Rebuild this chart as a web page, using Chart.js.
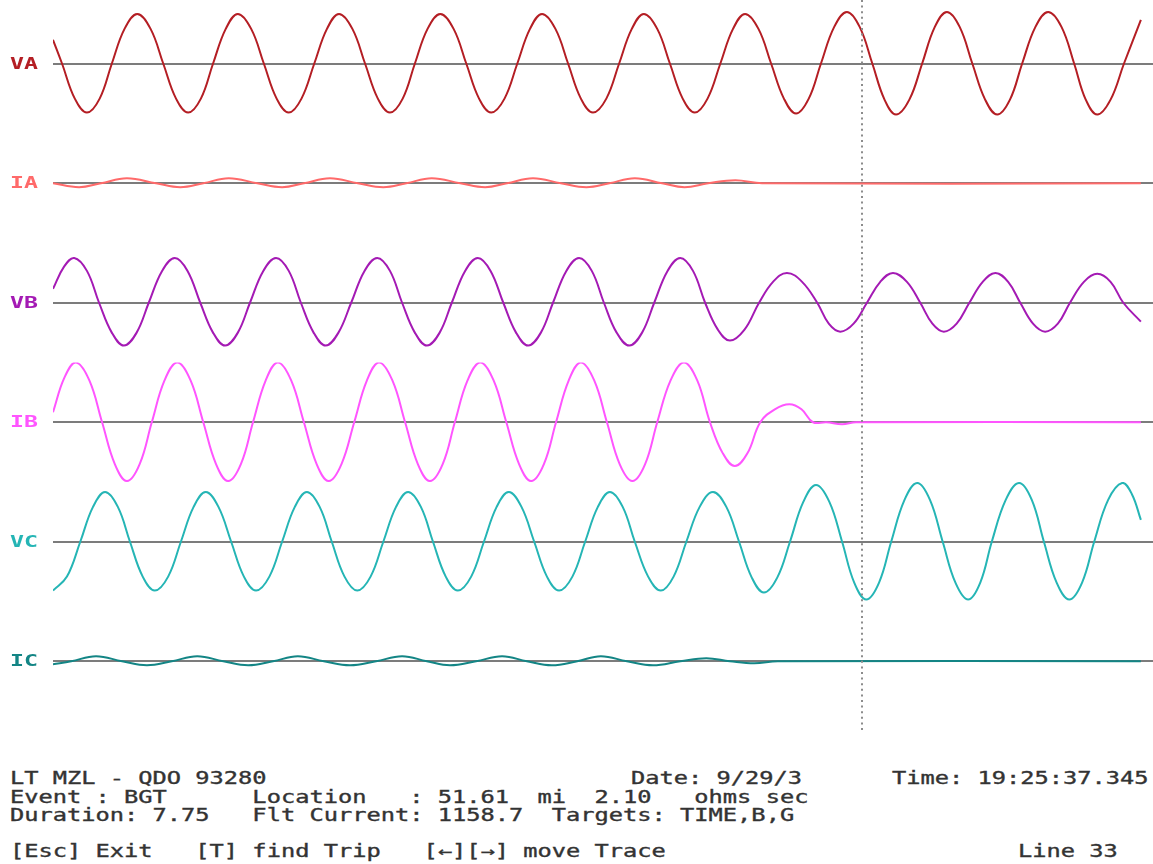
<!DOCTYPE html>
<html>
<head>
<meta charset="utf-8">
<script src="https://cdn.jsdelivr.net/npm/chart.js@4"></script>
<style>
  html, body { margin: 0; background: #fff; }
  #wrap { position: relative; width: 1153px; height: 864px; overflow: hidden; background: #fff; }
  #plot { position: absolute; left: 0; top: 0; width: 1153px; height: 740px; }
  .txt {
    position: absolute; white-space: pre; color: #333;
    font: 17px "DejaVu Sans Mono", monospace; line-height: 16px;
    -webkit-text-stroke: 0.35px #333;
    transform: scaleX(1.393); transform-origin: 0 0;
  }
</style>
</head>
<body>
<div id="wrap">
  <div id="plot"><canvas id="osc"></canvas></div>
  <div class="txt" style="left:10px;top:770px">LT MZL - QDO 93280</div>
  <div class="txt" style="left:631px;top:770px">Date: 9/29/3</div>
  <div class="txt" style="left:892px;top:770px">Time: 19:25:37.345</div>
  <div class="txt" style="left:10px;top:789px">Event : BGT      Location   : 51.61  mi  2.10   ohms sec</div>
  <div class="txt" style="left:10px;top:807px">Duration: 7.75   Flt Current: 1158.7  Targets: TIME,B,G</div>
  <div class="txt" style="left:10px;top:843px">[Esc] Exit   [T] find Trip   [←][→] move Trace</div>
  <div class="txt" style="left:1018px;top:843px">Line 33</div>
</div>
<script>
// channels, top to bottom
const channelNames = ["VA", "IA", "VB", "IB", "VC", "IC"];
const channelColors = ["#b41e24", "#ff6a6a", "#a41ab4", "#ff55ff", "#25b5b5", "#138585"];

// time span of the record on screen (ms) and the cursor position
const timeSpan = 181.5;
const cursorTime = 133.5;

// samples (time in ms, value in display units)
const vaTime = [0.0, 1.5, 3.6, 5.6, 7.7, 9.7, 11.8, 13.9, 16.1, 18.2, 20.3, 22.3, 24.4, 26.4, 28.5, 30.5, 32.7, 34.8, 36.9, 38.9, 41.0, 43.1, 45.2, 47.2, 49.4, 51.5, 53.6, 55.6, 57.7, 59.7, 61.8, 63.9, 66.1, 68.2, 70.3, 72.3, 74.5, 76.6, 78.7, 80.7, 82.9, 85.0, 87.1, 89.1, 91.3, 93.4, 95.5, 97.5, 99.7, 101.8, 103.9, 105.9, 108.0, 110.1, 112.2, 114.2, 116.4, 118.5, 120.6, 122.6, 124.7, 126.7, 128.9, 131.0, 133.1, 135.2, 137.2, 139.1, 141.3, 143.4, 145.5, 147.5, 149.6, 151.7, 153.8, 155.8, 157.9, 159.9, 162.1, 164.2, 166.4, 168.5, 170.4, 172.3, 174.5, 176.7, 179.5];
const vaValue = [24, 0, -35, -49, -35, 0, 35, 50, 35, 0, -35, -49, -35, 0, 35, 50, 35, 0, -35, -49, -35, 0, 35, 50, 35, 0, -35, -49, -35, 0, 35, 50, 35, 0, -35, -49, -35, 0, 35, 50, 35, 0, -35, -49, -35, 0, 35, 50, 35, 0, -35, -49, -35, 0, 35, 50, 35, 0, -35, -50, -35, 0, 37, 52, 37, 0, -36, -51, -36, 0, 37, 52, 37, 0, -36, -51, -36, 0, 37, 52, 37, 0, -36, -51, -36, 0, 44];

const iaTime = [0.0, 4.3, 7.9, 12.2, 17.0, 21.0, 24.8, 29.0, 33.7, 37.8, 41.4, 45.7, 50.3, 54.5, 58.3, 62.5, 67.2, 71.3, 74.9, 79.2, 83.8, 88.0, 91.8, 96.0, 100.5, 104.2, 108.1, 112.6, 117.0, 179.5];
const iaValue = [0, -4, 0, 5, 0, -4, 0, 5, 0, -4, 0, 5, 0, -4, 0, 5, 0, -4, 0, 5, 0, -4, 0, 5, 0, -4, 0, 3, 0, 0];

const vbTime = [0.0, 1.8, 3.5, 5.6, 7.6, 9.7, 11.7, 13.8, 15.8, 18.0, 20.1, 22.2, 24.3, 26.4, 28.4, 30.5, 32.5, 34.7, 36.8, 38.9, 40.9, 43.0, 45.0, 47.1, 49.2, 51.4, 53.5, 55.6, 57.6, 59.7, 61.7, 63.8, 65.8, 68.0, 70.1, 72.2, 74.3, 76.4, 78.4, 80.5, 82.5, 84.7, 86.8, 88.9, 90.9, 93.0, 95.1, 97.2, 99.2, 101.4, 103.5, 105.6, 107.6, 109.7, 111.7, 114.1, 116.5, 118.8, 121.1, 123.6, 126.1, 128.0, 129.9, 132.1, 134.3, 136.5, 138.6, 140.9, 143.1, 145.1, 147.0, 149.1, 151.2, 153.4, 155.5, 157.6, 159.6, 161.7, 163.7, 165.8, 167.8, 170.1, 172.3, 174.5, 176.6, 179.5];
const vbValue = [14, 36, 45, 32, 0, -30, -43, -30, 0, 32, 45, 32, 0, -30, -43, -30, 0, 32, 45, 32, 0, -30, -43, -30, 0, 32, 45, 32, 0, -30, -43, -30, 0, 32, 45, 32, 0, -30, -43, -30, 0, 32, 45, 32, 0, -30, -43, -30, 0, 32, 45, 32, 0, -27, -38, -27, 0, 21, 30, 21, 0, -21, -29, -21, 0, 21, 30, 21, 0, -21, -29, -21, 0, 21, 30, 21, 0, -21, -29, -21, 0, 21, 29, 21, 0, -19];

const ibTime = [0.0, 1.9, 3.8, 6.0, 8.1, 10.2, 12.2, 14.3, 16.3, 18.4, 20.5, 22.7, 24.8, 26.9, 28.9, 31.0, 33.0, 35.1, 37.1, 39.3, 41.4, 43.5, 45.5, 47.6, 49.7, 51.8, 53.8, 56.0, 58.1, 60.2, 62.2, 64.3, 66.3, 68.4, 70.5, 72.7, 74.8, 76.9, 78.9, 81.0, 83.0, 85.1, 87.1, 89.3, 91.4, 93.5, 95.6, 97.7, 99.7, 101.9, 104.1, 106.3, 108.4, 110.5, 112.5, 114.6, 116.7, 119.1, 121.5, 123.5, 125.4, 127.6, 130.2, 132.5, 179.5];
const ibValue = [10, 45, 60, 42, 0, -42, -59, -42, 0, 42, 60, 42, 0, -42, -59, -42, 0, 42, 60, 42, 0, -42, -59, -42, 0, 42, 60, 42, 0, -42, -59, -42, 0, 42, 60, 42, 0, -42, -59, -42, 0, 42, 60, 42, 0, -42, -59, -42, 0, 42, 60, 42, 0, -31, -44, -31, 0, 13, 18, 13, 0, 0, -2, 0, 0];

const vcTime = [0.0, 2.3, 4.5, 6.6, 8.6, 10.7, 12.7, 14.8, 16.8, 19.0, 21.1, 23.2, 25.2, 27.3, 29.4, 31.5, 33.5, 35.7, 37.8, 39.9, 41.9, 44.0, 46.0, 48.1, 50.2, 52.4, 54.5, 56.6, 58.6, 60.7, 62.7, 64.8, 66.8, 69.0, 71.1, 73.2, 75.2, 77.3, 79.4, 81.5, 83.5, 85.7, 87.8, 89.9, 91.9, 94.0, 96.0, 98.2, 100.3, 102.4, 104.5, 106.7, 108.9, 111.1, 113.2, 115.3, 117.3, 119.5, 121.6, 123.8, 125.9, 128.1, 130.2, 132.2, 134.2, 136.3, 138.3, 140.5, 142.6, 144.7, 146.8, 148.9, 151.0, 153.0, 154.9, 157.2, 159.4, 161.5, 163.5, 165.6, 167.7, 169.8, 171.8, 174.1, 176.4, 178.0, 179.5];
const vcValue = [-49, -35, 0, 35, 50, 35, 0, -35, -49, -35, 0, 35, 50, 35, 0, -35, -49, -35, 0, 35, 50, 35, 0, -35, -49, -35, 0, 35, 50, 35, 0, -35, -49, -35, 0, 35, 50, 35, 0, -35, -49, -35, 0, 35, 50, 35, 0, -35, -49, -35, 0, 35, 50, 35, 0, -36, -51, -36, 0, 40, 57, 40, 0, -41, -58, -41, 0, 42, 59, 42, 0, -41, -58, -41, 0, 42, 59, 42, 0, -41, -58, -41, 0, 42, 59, 48, 22];

const icTime = [0.0, 3.0, 7.1, 11.4, 15.5, 19.6, 23.8, 28.1, 32.2, 36.3, 40.4, 44.7, 49.0, 53.3, 57.6, 61.7, 65.5, 69.8, 74.1, 78.2, 82.3, 86.5, 90.4, 94.7, 99.0, 103.5, 107.8, 111.7, 115.7, 119.6, 179.5];
const icValue = [-3, 0, 5, 0, -4, 0, 5, 0, -4, 0, 5, 0, -4, 0, 5, 0, -4, 0, 5, 0, -4, 0, 5, 0, -4, 0, 3, 0, -2, 0, 0];

const traceTimes = [vaTime, iaTime, vbTime, ibTime, vcTime, icTime];
const traceValues = [vaValue, iaValue, vbValue, ibValue, vcValue, icValue];

// Datasets, one per channel, each on its own stacked y axis
const datasets = channelNames.map((name, i) => ({
  label: name,
  data: traceTimes[i].map((t, k) => ({ x: t, y: traceValues[i][k] })),
  yAxisID: "y" + i,
  borderColor: channelColors[i],
  borderWidth: 2,
  pointRadius: 0,
  tension: 0.4,
  fill: false,
}));

// x axis hidden; the y axes are stacked, the last one defined lands on top
const scales = {
  x: { type: "linear", min: 0, max: timeSpan, display: false },
};
for (let i = channelNames.length - 1; i >= 0; i--) {
  scales["y" + i] = {
    type: "linear",
    position: "left",
    stack: "osc",
    stackWeight: 1,
    offset: false,
    min: -60,
    max: 60,
    afterBuildTicks: (axis) => {
      axis.ticks = [{ value: 0 }];
    },
    afterFit: (axis) => {
      axis.width = 53;
    },
    ticks: { display: false },
    border: { display: false },
    grid: { color: "#7c7c7c", lineWidth: 2, drawTicks: false },
  };
}

// Channel names next to each baseline
const traceLabels = {
  id: "traceLabels",
  afterDraw(chart) {
    const ctx = chart.ctx;
    channelNames.forEach((name, i) => {
      const y = chart.scales["y" + i].getPixelForValue(0);
      ctx.save();
      ctx.translate(10, y + 1);
      ctx.scale(1.45, 1);
      ctx.font = 'bold 16px "DejaVu Sans Mono"';
      ctx.fillStyle = channelColors[i];
      ctx.textBaseline = "middle";
      ctx.fillText(name, 0, 0);
      ctx.restore();
    });
  },
};

// Dotted cursor line
const cursorLine = {
  id: "cursorLine",
  afterDatasetsDraw(chart) {
    const ctx = chart.ctx;
    const x = Math.round(chart.scales.x.getPixelForValue(cursorTime));
    ctx.save();
    ctx.strokeStyle = "#8c8c8c";
    ctx.lineWidth = 2;
    ctx.setLineDash([2, 3.6]);
    ctx.beginPath();
    ctx.moveTo(x, 0);
    ctx.lineTo(x, chart.chartArea.bottom + 12);
    ctx.stroke();
    ctx.restore();
  },
};

new Chart(document.getElementById("osc"), {
  type: "line",
  data: { datasets: datasets },
  options: {
    responsive: true,
    maintainAspectRatio: false,
    animation: false,
    layout: { padding: { top: 4, bottom: 19, left: 0, right: 0 } },
    scales: scales,
    plugins: {
      legend: { display: false },
      tooltip: { enabled: false },
    },
  },
  plugins: [traceLabels, cursorLine],
});
</script>
</body>
</html>
